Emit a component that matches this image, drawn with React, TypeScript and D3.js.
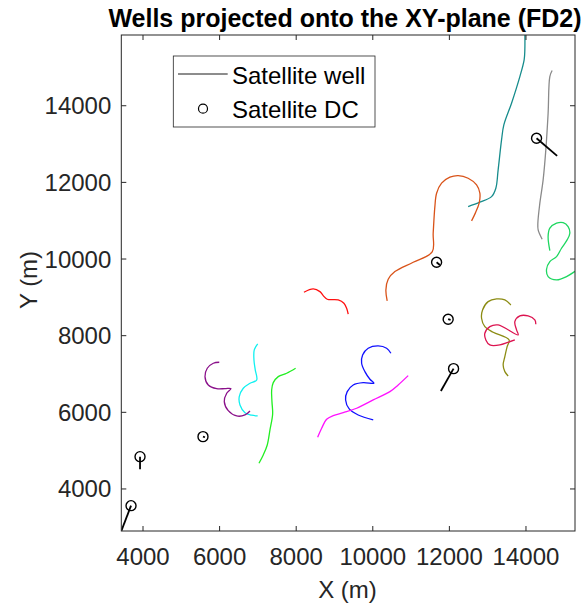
import React from "react";
import * as d3 from "d3";

const W = 585, H = 609;
const M = { left: 121.3, right: 575, top: 35, bottom: 531 };
const X_DOMAIN = [3433, 15280];
const Y_DOMAIN = [2903, 15846];
const xTicks = [4000, 6000, 8000, 10000, 12000, 14000];
const yTicks = [4000, 6000, 8000, 10000, 12000, 14000];

type P = [number, number];

const tealWell: P[] = [[12490, 11368], [12796, 11483], [13101, 11629], [13213, 11848], [13273, 12326], [13362, 13109], [13422, 13500], [13623, 14067], [13840, 14761], [13952, 15197], [13970, 15458], [13970, 16110]];
const grayWell: P[] = [[14683, 14918], [14623, 14761], [14578, 13806], [14518, 12848], [14448, 12065], [14362, 11457], [14310, 10935], [14318, 10760], [14422, 10517]];
const orangeWell: P[] = [[10376, 8907], [10342, 9194], [10402, 9473], [10577, 9672], [11055, 9917], [11551, 10186], [11577, 10674], [11621, 11368], [11666, 11718], [11796, 11979], [12013, 12135], [12229, 12177], [12490, 12109], [12710, 11934], [12796, 11718], [12777, 11457], [12683, 11211], [12579, 10995]];
const springWell: P[] = [[14623, 10220], [14578, 10585], [14623, 10804], [14798, 10935], [14970, 10950], [15100, 10846], [15145, 10674], [15074, 10499], [14928, 10282], [14798, 10063], [14623, 9933], [14537, 9734], [14578, 9541], [14798, 9455], [15059, 9541], [15406, 9768]];
const redWell: P[] = [[8202, 9134], [8445, 9220], [8620, 9150], [8706, 9045], [8810, 8951], [9097, 8933], [9246, 8847], [9317, 8716], [9358, 8560]];
const oliveWell: P[] = [[13605, 8802], [13448, 8933], [13232, 8959], [13012, 8889], [12866, 8672], [12840, 8455], [12926, 8236], [13143, 8090], [13560, 7889], [13508, 7714], [13448, 7453], [13404, 7236], [13448, 7062], [13534, 6949]];
const crimsonWell: P[] = [[14257, 8299], [14231, 8411], [14056, 8515], [13840, 8515], [13709, 8367], [13754, 8150], [13795, 8019], [13273, 8280], [13057, 8236], [12926, 8064], [12952, 7889], [13057, 7758], [13318, 7758], [13527, 7824], [13709, 7889]];
const blueWell: P[] = [[10473, 7542], [10361, 7672], [10141, 7732], [9880, 7672], [9734, 7497], [9708, 7281], [9794, 7062], [9925, 6863], [10029, 6759], [9750, 6774], [9489, 6714], [9332, 6540], [9290, 6323], [9384, 6088], [9619, 5931], [10011, 5801]];
const magentaWell: P[] = [[8560, 5349], [8664, 5584], [8795, 5819], [8967, 5913], [9228, 5991], [9578, 6106], [10011, 6323], [10447, 6540], [10663, 6714], [10924, 6957]];
const greenWell: P[] = [[7985, 7150], [7751, 7020], [7531, 6931], [7401, 6774], [7359, 6584], [7367, 6279], [7385, 5958], [7315, 5540], [7244, 5148], [7140, 4887], [7028, 4671]];
const cyanWell: P[] = [[6994, 7785], [6905, 7628], [6897, 7367], [6931, 7106], [6968, 6845], [6793, 6759], [6618, 6628], [6513, 6409], [6532, 6192], [6662, 5991], [6837, 5924], [6994, 5905]];
const purpleWell: P[] = [[5991, 7307], [5835, 7281], [5678, 7150], [5618, 6931], [5704, 6714], [5924, 6618], [6140, 6618], [6297, 6618], [6185, 6498], [6122, 6279], [6226, 6044], [6446, 5905], [6662, 5931], [6793, 6036]];

const wellSeries = [
  { name: "teal", color: "#168c8c", pts: tealWell },
  { name: "gray", color: "#8a8a8a", pts: grayWell },
  { name: "orange", color: "#d95319", pts: orangeWell },
  { name: "spring", color: "#1ed760", pts: springWell },
  { name: "red", color: "#ff1010", pts: redWell },
  { name: "olive", color: "#8c8c14", pts: oliveWell },
  { name: "crimson", color: "#dc1450", pts: crimsonWell },
  { name: "blue", color: "#1010ff", pts: blueWell },
  { name: "magenta", color: "#ff10ff", pts: magentaWell },
  { name: "green", color: "#22ee22", pts: greenWell },
  { name: "cyan", color: "#10f0f0", pts: cyanWell },
  { name: "purple", color: "#8a108a", pts: purpleWell },
];

// satellite drill centres: [x, y] and direction line end [x, y]
const dcCenters: P[] = [[14276, 13153], [11666, 9917], [11968, 8429], [12109, 7140], [5566, 5365], [3922, 4843], [3687, 3564]];
const dcEnds: P[] = [[14813, 12691], [11752, 9846], [12031, 8411], [11778, 6558], [5618, 5349], [3922, 4514], [3374, 2747]];

const FONT = "'Liberation Sans', Arial, Helvetica, sans-serif";
const AX = "#262626";

export default function App() {
  const x = d3.scaleLinear().domain(X_DOMAIN).range([M.left, M.right]);
  const y = d3.scaleLinear().domain(Y_DOMAIN).range([M.bottom, M.top]);
  const line = d3.line<P>().x((d) => x(d[0])).y((d) => y(d[1])).curve(d3.curveCatmullRom.alpha(0.5));
  const tick = 5;
  return (
    <svg width={W} height={H} style={{ position: "absolute", left: 0, top: 0 }} fontFamily={FONT}>
      <defs>
        <clipPath id="plotclip">
          <rect x={M.left} y={M.top} width={M.right - M.left} height={M.bottom - M.top} />
        </clipPath>
      </defs>
      <rect width={W} height={H} fill="#fff" />
      <g clipPath="url(#plotclip)">
        {wellSeries.map((s) => (
          <path key={s.name} d={line(s.pts) || ""} fill="none" stroke={s.color} strokeWidth={1.3} />
        ))}
        {dcCenters.map((c, i) => (
          <g key={i}>
            <line x1={x(c[0])} y1={y(c[1])} x2={x(dcEnds[i][0])} y2={y(dcEnds[i][1])} stroke="#000" strokeWidth={1.8} />
            <circle cx={x(c[0])} cy={y(c[1])} r={5} fill="none" stroke="#000" strokeWidth={1.4} />
          </g>
        ))}
      </g>
      {/* axes box */}
      <rect x={M.left} y={M.top} width={M.right - M.left} height={M.bottom - M.top} fill="none" stroke={AX} strokeWidth={1} />
      {xTicks.map((t) => (
        <g key={"x" + t}>
          <line x1={x(t)} x2={x(t)} y1={M.bottom} y2={M.bottom - tick} stroke={AX} />
          <line x1={x(t)} x2={x(t)} y1={M.top} y2={M.top + tick} stroke={AX} />
          <text x={x(t)} y={565} textAnchor="middle" fontSize={24} fill={AX}>{t}</text>
        </g>
      ))}
      {yTicks.map((t) => (
        <g key={"y" + t}>
          <line x1={M.left} x2={M.left + tick} y1={y(t)} y2={y(t)} stroke={AX} />
          <line x1={M.right} x2={M.right - tick} y1={y(t)} y2={y(t)} stroke={AX} />
          <text x={M.left - 10} y={y(t) + 8.5} textAnchor="end" fontSize={24} fill={AX}>{t}</text>
        </g>
      ))}
      <text x={347.5} y={598} textAnchor="middle" fontSize={24} fill={AX}>X (m)</text>
      <text transform="translate(37,280) rotate(-90)" textAnchor="middle" fontSize={24} fill={AX}>Y (m)</text>
      <text x={345} y={27} textAnchor="middle" fontSize={25} fontWeight="bold" fill="#000">Wells projected onto the XY-plane (FD2)</text>
      {/* legend */}
      <rect x={173.3} y={56} width={201.7} height={71} fill="#fff" stroke={AX} strokeWidth={0.8} />
      <line x1={178} x2={227.7} y1={74} y2={74} stroke="#1a1a1a" strokeWidth={1} />
      <text x={232} y={84} fontSize={24} fill="#000">Satellite well</text>
      <circle cx={203} cy={108.7} r={4.5} fill="none" stroke="#000" strokeWidth={1.2} />
      <text x={232} y={117.5} fontSize={24} fill="#000">Satellite DC</text>
    </svg>
  );
}
